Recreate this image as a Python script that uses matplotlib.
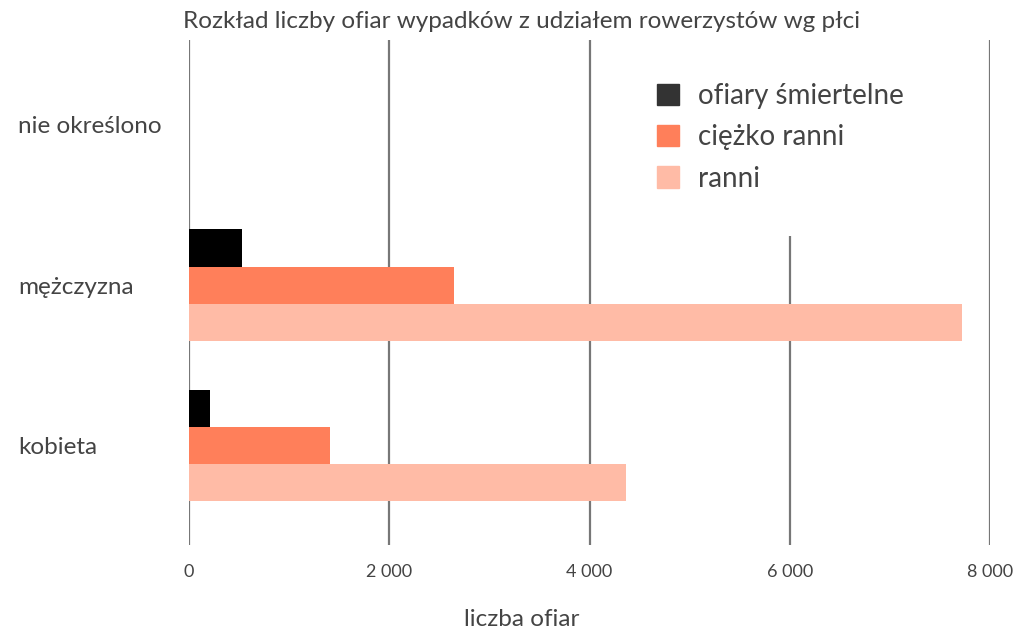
import matplotlib.pyplot as plt
import numpy as np

plt.rcParams['font.family'] = ['Lato', 'DejaVu Sans']

categories = ["kobieta", "mężczyzna", "nie określono"]
series = ["ofiary śmiertelne", "ciężko ranni", "ranni"]
fatal = [210, 530, 0]
severe = [1410, 2645, 0]
light = [4365, 7725, 0]
xticks = [0, 2000, 4000, 6000, 8000]
xtick_labels = ["0", "2 000", "4 000", "6 000", "8 000"]

colors = ["#000000", "#ff7f5a", "#ffbba6"]
legend_colors = ["#333333", "#ff7f5a", "#ffbba6"]
text_col = "#444444"

fig = plt.figure(figsize=(10.23, 6.34), dpi=100)
ax = fig.add_axes([189 / 1023, 1 - 545 / 634, 801 / 1023, 505 / 634])

y = np.arange(len(categories))
h = 0.232
for vals, off, c, lab in zip([fatal, severe, light], [h, 0, -h], colors, series):
    ax.barh(y + off, vals, height=h, color=c, label=lab, zorder=3)

ax.set_xlim(0, 8000)
ax.set_ylim(-0.62, 2.53)
ax.set_xticks(xticks)
ax.set_xticklabels(xtick_labels, fontsize=13, color=text_col)
ax.set_yticks(y)
ax.set_yticklabels(categories, fontsize=17.5, color=text_col, ha="left")
ax.tick_params(axis="y", length=0, pad=123)
ax.tick_params(axis="x", length=0, pad=14)
for s in ax.spines.values():
    s.set_visible(False)
ax.grid(axis="x", color="#777777", linewidth=1.6, zorder=0)
ax.set_axisbelow(True)

handles = [plt.Rectangle((0, 0), 1, 1, color=c) for c in legend_colors]
leg = ax.legend(handles, series, loc="upper left", bbox_to_anchor=(0.511, 1.03),
                fontsize=20, frameon=True, facecolor="white", edgecolor="none",
                framealpha=1, handlelength=0.8, handleheight=0.8,
                labelspacing=0.55, handletextpad=0.7, borderpad=1.6)
leg.set_zorder(5)
for t in leg.get_texts():
    t.set_color(text_col)

fig.text(0.51, 1 - 22 / 634, "Rozkład liczby ofiar wypadków z udziałem rowerzystów wg płci",
         ha="center", va="center", fontsize=17.5, color=text_col)
fig.text(0.51, 1 - 620 / 634, "liczba ofiar", ha="center", va="center",
         fontsize=17.5, color=text_col)

fig.savefig("out.png", dpi=100)
